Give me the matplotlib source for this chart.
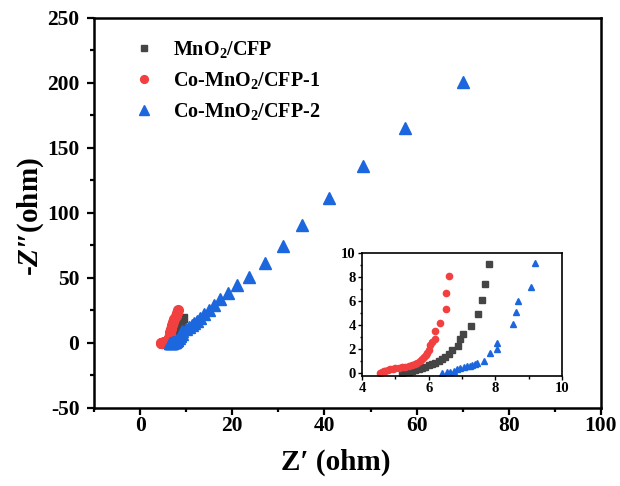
"""
Nyquist plot: MnO2/CFP vs Co-MnO2/CFP samples, with a zoomed inset
"""
import matplotlib
matplotlib.use("Agg")
import matplotlib.pyplot as plt
from matplotlib.ticker import MultipleLocator

plt.rcParams['font.family'] = 'Liberation Serif'
plt.rcParams['font.weight'] = 'bold'
plt.rcParams['axes.unicode_minus'] = False
plt.rcParams['mathtext.fontset'] = 'custom'
plt.rcParams['mathtext.rm'] = 'Liberation Serif:bold'
plt.rcParams['mathtext.it'] = 'Liberation Serif:italic:bold'
plt.rcParams['mathtext.bf'] = 'Liberation Serif:bold'


# DATA (ohm)

mno2_re = [5.2, 5.3, 5.4, 5.5, 5.6, 5.7, 5.8, 5.9, 6.0, 6.1, 6.2, 6.3, 6.4, 6.5,
           6.6, 6.7, 6.87, 6.95, 7.03, 7.27, 7.48, 7.6, 7.7, 7.81,
           8.0, 8.3, 8.6, 9.0, 9.4]
mno2_im = [0.0, 0.05, 0.12, 0.2, 0.28, 0.36, 0.45, 0.54, 0.63, 0.74, 0.86, 1.0, 1.15, 1.35,
           1.6, 1.92, 2.25, 2.8, 3.22, 3.92, 4.92, 6.08, 7.42, 9.06,
           11.0, 13.0, 15.0, 17.0, 19.0]

co1_re = [4.55, 4.6, 4.65, 4.7, 4.78, 4.85, 4.93, 5.0, 5.1, 5.2, 5.3, 5.4, 5.5, 5.58,
          5.66, 5.73, 5.8, 5.86, 5.91, 5.96, 6.0, 6.05, 6.1, 6.18, 6.18, 6.35, 6.53,
          6.53, 6.6, 6.8, 7.0, 7.2, 7.45, 7.7, 7.95, 8.2]
co1_im = [0.0, 0.08, 0.14, 0.2, 0.26, 0.3, 0.34, 0.38, 0.42, 0.47, 0.52, 0.58, 0.66, 0.75,
          0.86, 1.0, 1.15, 1.32, 1.5, 1.7, 1.95, 2.3, 2.6, 2.85, 3.5, 4.2, 5.3,
          6.64, 8.1, 11.0, 13.5, 16.0, 18.5, 20.5, 23.0, 25.0]

co2_re = [6.4, 6.55, 6.65, 6.75, 6.85, 6.95, 7.05, 7.15, 7.23, 7.3, 7.38, 7.45, 7.65,
          7.83, 8.06, 8.06, 8.53, 8.61, 8.69, 9.08, 9.19,
          9.9, 10.6, 11.2, 11.8, 12.4, 13.1, 13.9, 14.9, 16.0, 17.4, 19.0,
          21.0, 23.6, 27.1, 31.1, 35.1, 41.0, 48.4, 57.5, 70.1]
co2_im = [0.0, 0.05, 0.12, 0.2, 0.3, 0.38, 0.47, 0.55, 0.62, 0.68, 0.72, 0.8, 1.03,
          1.7, 2.0, 2.5, 4.05, 5.05, 6.03, 7.2, 9.19,
          10.5, 12.0, 13.5, 15.0, 17.0, 19.5, 22.0, 25.5, 29.0, 33.5, 38.5,
          44.5, 51.0, 61.5, 74.6, 90.8, 111.5, 136.2, 165.4, 200.8]

labels = ['MnO$_2$/CFP', 'Co-MnO$_2$/CFP-1', 'Co-MnO$_2$/CFP-2']
colors = ['#454545', '#f23f3f', '#1c66de']


# MAIN PLOT

fig = plt.figure(figsize=(6.2, 4.86), dpi=100)
ax = fig.add_axes([0.1516, 0.1605, 0.8177, 0.8025])

ax.plot(mno2_re, mno2_im, 's', color=colors[0], ms=6, label=labels[0])
ax.plot(co1_re, co1_im, 'o', color=colors[1], ms=7, label=labels[1])
ax.plot(co2_re, co2_im, '^', color=colors[2], ms=9, label=labels[2])

ax.set_xlim(-10, 100)
ax.set_ylim(-50, 250)
ax.xaxis.set_major_locator(MultipleLocator(20))
ax.xaxis.set_minor_locator(MultipleLocator(10))
ax.yaxis.set_major_locator(MultipleLocator(50))
ax.yaxis.set_minor_locator(MultipleLocator(25))
ax.tick_params(which='both', direction='out', width=1.6, labelsize=15.5, top=False, right=False)
ax.tick_params(which='major', length=5)
ax.tick_params(which='minor', length=3)
ax.tick_params(axis='x', which='major', pad=1)
ax.tick_params(axis='y', which='major', pad=5.5)
for s in ax.spines.values():
    s.set_linewidth(1.8)

ax.set_xlabel('Z′ (ohm)', fontsize=21, fontweight='bold')
ax.set_ylabel("-$\\mathit{Z}$″(ohm)", fontsize=21, fontweight='bold')
ax.xaxis.set_label_coords(0.477, -0.105)
ax.yaxis.set_label_coords(-0.095, 0.49)

leg = ax.legend(loc='upper left', bbox_to_anchor=(0.04, 0.993), frameon=False,
                prop={'size': 14.5, 'weight': 'bold'}, markerscale=0.8,
                handletextpad=0.8, labelspacing=0.5, handlelength=1.2)


# INSET

ins = fig.add_axes([0.5839, 0.2263, 0.3226, 0.2531])
ins.plot(mno2_re, mno2_im, 's', color=colors[0], ms=4)
ins.plot(co1_re, co1_im, 'o', color=colors[1], ms=4.5)
ins.plot(co2_re, co2_im, '^', color=colors[2], ms=5)
ins.set_xlim(4, 10)
ins.set_ylim(-0.25, 10)
ins.xaxis.set_major_locator(MultipleLocator(2))
ins.xaxis.set_minor_locator(MultipleLocator(1))
ins.yaxis.set_major_locator(MultipleLocator(2))
ins.yaxis.set_minor_locator(MultipleLocator(1))
ins.tick_params(which='both', direction='out', width=1, labelsize=10.5, pad=1.5)
ins.tick_params(which='major', length=3)
ins.tick_params(which='minor', length=1.8)
for s in ins.spines.values():
    s.set_linewidth(1.2)

fig.savefig('out.png', dpi=100)
